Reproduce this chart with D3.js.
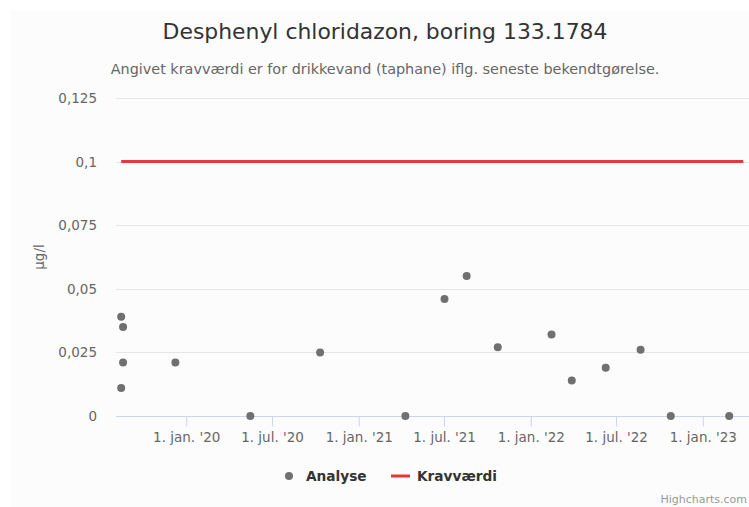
<!DOCTYPE html>
<html>
<head>
<meta charset="utf-8">
<script src="https://cdn.jsdelivr.net/npm/d3@7"></script>
<style>
  body { margin: 0; background: #ffffff; }
  svg { display: block; font-family: "DejaVu Sans", Verdana, sans-serif; }
</style>
</head>
<body>
<div id="chart"></div>
<script>
// Analyse points (sample date, µg/l)
var analyseDates = ["2019-08-16", "2019-08-20", "2019-08-20", "2019-08-16", "2019-12-09",
    "2020-05-16", "2020-10-11", "2021-04-10", "2021-07-02", "2021-08-18", "2021-10-23",
    "2022-02-14", "2022-03-29", "2022-06-09", "2022-08-22", "2022-10-25", "2023-02-26"];
var analyseValues = [0.039, 0.035, 0.021, 0.011, 0.021,
    0, 0.025, 0, 0.046, 0.055, 0.027,
    0.032, 0.014, 0.019, 0.026, 0, 0];

// Kravværdi (limit) line
var kravDates = ["2019-08-16", "2023-03-28"];
var kravValues = [0.1, 0.1];

// axis settings
var xDomain = ["2019-08-05", "2023-04-09"];
var xTickDates = ["2020-01-01", "2020-07-01", "2021-01-01", "2021-07-01", "2022-01-01", "2022-07-01", "2023-01-01"];
var xTickLabels = ["1. jan. '20", "1. jul. '20", "1. jan. '21", "1. jul. '21", "1. jan. '22", "1. jul. '22", "1. jan. '23"];
var yTicks = [0, 0.025, 0.05, 0.075, 0.1, 0.125];
var yTickLabels = ["0", "0,025", "0,05", "0,075", "0,1", "0,125"];

document.addEventListener("DOMContentLoaded", function() {
    var W = 749, H = 507;
    var plot = {left: 116, right: 749, top: 98, bottom: 416};

    var svg = d3.select("#chart").append("svg")
        .attr("width", W)
        .attr("height", H);

    // chart background
    svg.append("rect")
        .attr("x", 10).attr("y", 10)
        .attr("width", W - 10).attr("height", H - 10)
        .attr("fill", "#fcfcfc");

    var parse = d3.utcParse("%Y-%m-%d");

    var xScale = d3.scaleUtc()
        .domain(xDomain.map(parse))
        .range([plot.left, plot.right]);

    var yScale = d3.scaleLinear()
        .domain([0, 0.125])
        .range([plot.bottom, plot.top]);

    // grid lines
    svg.append("g")
        .selectAll("line")
        .data(yTicks.slice(1))
        .enter()
        .append("line")
        .attr("x1", plot.left)
        .attr("x2", plot.right)
        .attr("y1", function(d) { return Math.round(yScale(d)) + 0.5; })
        .attr("y2", function(d) { return Math.round(yScale(d)) + 0.5; })
        .attr("stroke", "#e6e6e6")
        .attr("stroke-width", 1);

    // y labels
    svg.append("g")
        .selectAll("text")
        .data(yTicks)
        .enter()
        .append("text")
        .attr("x", 97)
        .attr("y", function(d) { return yScale(d) + 5; })
        .attr("text-anchor", "end")
        .attr("font-size", "13.5px")
        .attr("fill", "#666666")
        .text(function(d, i) { return yTickLabels[i]; });

    // y axis title
    svg.append("text")
        .attr("transform", "translate(44," + ((plot.top + plot.bottom) / 2) + ") rotate(-90)")
        .attr("text-anchor", "middle")
        .attr("font-size", "13.5px")
        .attr("fill", "#666666")
        .text("µg/l");

    // x axis
    var xAxis = d3.axisBottom(xScale)
        .tickValues(xTickDates.map(parse))
        .tickSize(10)
        .tickPadding(6)
        .tickFormat(function(d, i) { return xTickLabels[i]; });

    var gx = svg.append("g")
        .attr("transform", "translate(0," + (plot.bottom + 0.5) + ")")
        .call(xAxis);
    gx.select(".domain").remove();
    gx.append("line")
        .attr("x1", plot.left).attr("x2", plot.right)
        .attr("stroke", "#ccd6eb");
    gx.selectAll(".tick line").attr("stroke", "#ccd6eb");
    gx.selectAll(".tick text")
        .attr("font-family", "DejaVu Sans, Verdana, sans-serif")
        .attr("font-size", "13.5px")
        .attr("fill", "#666666");

    // Kravværdi line
    var line = d3.line()
        .x(function(d) { return xScale(parse(d.date)); })
        .y(function(d) { return yScale(d.value); });

    var kravData = kravDates.map(function(d, i) { return {date: d, value: kravValues[i]}; });
    svg.append("path")
        .datum(kravData)
        .attr("d", line)
        .attr("fill", "none")
        .attr("stroke", "#e8373a")
        .attr("stroke-width", 3);

    // Analyse points
    var analyseData = analyseDates.map(function(d, i) { return {date: d, value: analyseValues[i]}; });
    svg.append("g")
        .selectAll("circle")
        .data(analyseData)
        .enter()
        .append("circle")
        .attr("cx", function(d) { return xScale(parse(d.date)); })
        .attr("cy", function(d) { return yScale(d.value); })
        .attr("r", 4)
        .attr("fill", "#707070");

    // title and subtitle
    svg.append("text")
        .attr("x", 385)
        .attr("y", 39)
        .attr("text-anchor", "middle")
        .attr("font-size", "21.9px")
        .attr("fill", "#333333")
        .text("Desphenyl chloridazon, boring 133.1784");

    svg.append("text")
        .attr("x", 385)
        .attr("y", 74)
        .attr("text-anchor", "middle")
        .attr("font-size", "14.4px")
        .attr("fill", "#666666")
        .text("Angivet kravværdi er for drikkevand (taphane) iflg. seneste bekendtgørelse.");

    // legend
    var legend = svg.append("g").attr("font-size", "13.7px").attr("font-weight", "bold").attr("fill", "#333333");
    legend.append("circle").attr("cx", 289).attr("cy", 476).attr("r", 4).attr("fill", "#707070");
    legend.append("text").attr("x", 306).attr("y", 481).text("Analyse");
    legend.append("line")
        .attr("x1", 391).attr("x2", 410)
        .attr("y1", 476).attr("y2", 476)
        .attr("stroke", "#e8373a").attr("stroke-width", 3);
    legend.append("text").attr("x", 417).attr("y", 481).text("Kravværdi");

    // credits
    svg.append("text")
        .attr("x", 747)
        .attr("y", 503)
        .attr("text-anchor", "end")
        .attr("font-size", "11px")
        .attr("fill", "#999999")
        .text("Highcharts.com");
});
</script>
</body>
</html>
